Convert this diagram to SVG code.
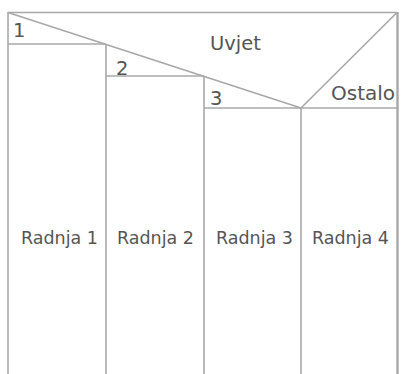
<svg xmlns="http://www.w3.org/2000/svg" width="402" height="374" viewBox="0 0 402 374">
<style>
.ln{stroke:#a8a8a8;stroke-width:1.6;fill:none}
.t{font-family:"DejaVu Sans",Verdana,sans-serif;fill:#555}
.r{font-size:17.5px}
.b{font-size:19.5px}
</style>
<rect width="402" height="374" fill="#fff"/>
<g id="frame">
<line class="ln" x1="8" y1="12.5" x2="397" y2="12.5"/>
<line class="ln" x1="8" y1="12" x2="8" y2="374"/>
<line class="ln" x1="397.5" y1="12" x2="397.5" y2="374" style="stroke-width:2.4"/>
</g>
<g id="condition">
<line class="ln" x1="8" y1="12.5" x2="301" y2="108"/>
<line class="ln" x1="301" y1="108" x2="397" y2="12.5"/>
<text class="t b" x="210" y="50">Uvjet</text>
</g>
<g id="case1">
<line class="ln" x1="8" y1="44" x2="106" y2="44"/>
<line class="ln" x1="106" y1="44" x2="106" y2="374"/>
<text class="t b" x="13" y="37">1</text>
<text class="t r" x="21" y="244">Radnja 1</text>
</g>
<g id="case2">
<line class="ln" x1="106" y1="76" x2="204" y2="76"/>
<line class="ln" x1="204" y1="76" x2="204" y2="374"/>
<text class="t b" x="116" y="75">2</text>
<text class="t r" x="117" y="244">Radnja 2</text>
</g>
<g id="case3">
<line class="ln" x1="204" y1="108" x2="397" y2="108"/>
<line class="ln" x1="301" y1="108" x2="301" y2="374"/>
<text class="t b" x="210" y="105">3</text>
<text class="t r" x="216" y="244">Radnja 3</text>
</g>
<g id="case4">
<text class="t b" x="331" y="100" style="font-size:20px">Ostalo</text>
<text class="t r" x="312" y="244">Radnja 4</text>
</g>
</svg>
